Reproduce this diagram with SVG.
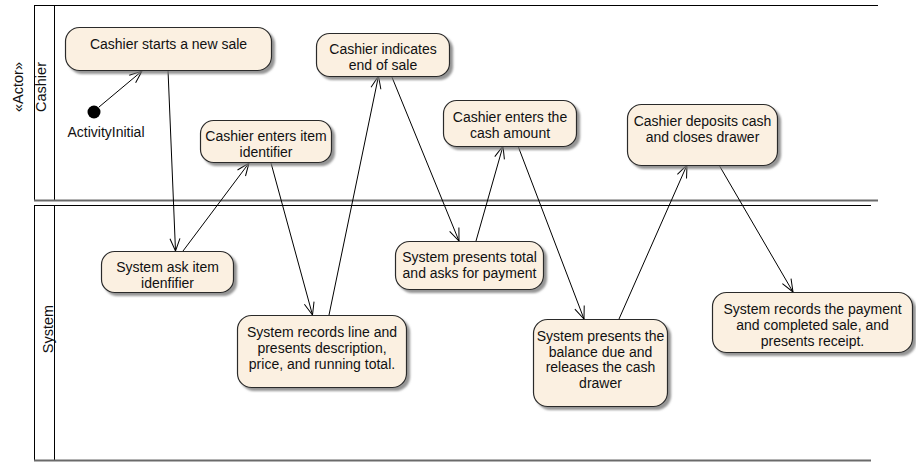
<svg xmlns="http://www.w3.org/2000/svg" width="916" height="462" viewBox="0 0 916 462">
  <style>
    text { font-family: "Liberation Sans", Arial, sans-serif; fill: #111; }
    .lbl { font-size: 14px; text-anchor: middle; }
    .lane-title { font-size: 14.5px; text-anchor: middle; }
    .lane { stroke: #000; stroke-width: 1; fill: none; }
    .lane-edge { stroke: #6a6a6a; stroke-width: 2.2; fill: none; }
    .action { fill: #FBF0E1; stroke: #2b2b2b; stroke-width: 1.2; filter: url(#shadow); }
    .flow { stroke: #000; stroke-width: 1; fill: none; marker-end: url(#open); }
  </style>
  <defs>
    <filter id="shadow" x="-10%" y="-10%" width="125%" height="135%">
      <feDropShadow dx="3" dy="3" stdDeviation="1.2" flood-color="#7a7a7a" flood-opacity="0.8"/>
    </filter>
    <marker id="open" viewBox="-14 -7 15 14" refX="0" refY="0" markerWidth="15" markerHeight="14" markerUnits="userSpaceOnUse" orient="auto">
      <path d="M -12.5 -5 L 0 0 L -12.5 5" fill="none" stroke="#000" stroke-width="1"/>
    </marker>
  </defs>

  <!-- Swimlanes -->
  <g id="lane-cashier">
    <line class="lane" x1="34" y1="5.5" x2="878" y2="5.5"/>
    <line class="lane" x1="34.5" y1="5" x2="34.5" y2="200"/>
    <line class="lane" x1="54.5" y1="5" x2="54.5" y2="200"/>
    <line class="lane-edge" x1="34" y1="200.5" x2="878" y2="200.5"/>
    <text class="lane-title" transform="translate(23,87) rotate(-90)">«Actor»</text>
    <text class="lane-title" transform="translate(45.5,87) rotate(-90)">Cashier</text>
  </g>
  <g id="lane-system">
    <line class="lane" x1="34" y1="205.5" x2="871" y2="205.5"/>
    <line class="lane" x1="34.5" y1="205" x2="34.5" y2="460"/>
    <line class="lane" x1="54.5" y1="205" x2="54.5" y2="460"/>
    <line class="lane-edge" x1="34" y1="460.5" x2="871" y2="460.5"/>
    <text class="lane-title" transform="translate(53,329) rotate(-90)">System</text>
  </g>

  <!-- Control flows -->
  <g id="connectors">
    <line class="flow" x1="99" y1="107" x2="142" y2="71"/>
    <line class="flow" x1="168" y1="70" x2="175.5" y2="251"/>
    <line class="flow" x1="183" y1="251" x2="249" y2="163"/>
    <line class="flow" x1="271" y1="163" x2="312.5" y2="315"/>
    <line class="flow" x1="329" y1="315" x2="378.5" y2="76"/>
    <line class="flow" x1="391.5" y1="76" x2="459" y2="241"/>
    <line class="flow" x1="476" y1="241" x2="503" y2="146"/>
    <line class="flow" x1="518" y1="146" x2="584" y2="319"/>
    <line class="flow" x1="619" y1="319" x2="687" y2="165"/>
    <line class="flow" x1="719" y1="165" x2="793" y2="292"/>
  </g>

  <!-- Initial node -->
  <g id="initial">
    <circle cx="94" cy="112" r="6.5" fill="#000"/>
    <text class="lbl" x="106" y="137">ActivityInitial</text>
  </g>

  <!-- Cashier actions -->
  <g id="start-sale">
    <rect class="action" x="65.5" y="27.5" width="206" height="43" rx="14"/>
    <text class="lbl" x="168.5" y="48.5">Cashier starts a new sale</text>
  </g>
  <g id="enter-item">
    <rect class="action" x="200.5" y="120.5" width="131" height="42" rx="13"/>
    <text class="lbl" x="266" y="141">Cashier enters item</text>
    <text class="lbl" x="266" y="157">identifier</text>
  </g>
  <g id="end-sale">
    <rect class="action" x="316.5" y="33.5" width="133" height="43" rx="13"/>
    <text class="lbl" x="383" y="54">Cashier indicates</text>
    <text class="lbl" x="383" y="70">end of sale</text>
  </g>
  <g id="enter-cash">
    <rect class="action" x="443.5" y="100.5" width="133" height="46" rx="13"/>
    <text class="lbl" x="510" y="122">Cashier enters the</text>
    <text class="lbl" x="510" y="138">cash amount</text>
  </g>
  <g id="deposit-cash">
    <rect class="action" x="627.5" y="104.5" width="150" height="61" rx="14"/>
    <text class="lbl" x="702.5" y="126">Cashier deposits cash</text>
    <text class="lbl" x="702.5" y="142">and closes drawer</text>
  </g>

  <!-- System actions -->
  <g id="ask-item">
    <rect class="action" x="101.5" y="251.5" width="132" height="41" rx="13"/>
    <text class="lbl" x="167.5" y="272">System ask item</text>
    <text class="lbl" x="167.5" y="288">idenfifier</text>
  </g>
  <g id="record-line">
    <rect class="action" x="237.5" y="315.5" width="169" height="72" rx="14"/>
    <text class="lbl" x="322" y="337">System records line and</text>
    <text class="lbl" x="322" y="353">presents description,</text>
    <text class="lbl" x="322" y="369">price, and running total.</text>
  </g>
  <g id="present-total">
    <rect class="action" x="395.5" y="241.5" width="148" height="48" rx="14"/>
    <text class="lbl" x="469.5" y="262">System presents total</text>
    <text class="lbl" x="469.5" y="278">and asks for payment</text>
  </g>
  <g id="balance-due">
    <rect class="action" x="533.5" y="319.5" width="134" height="87" rx="14"/>
    <text class="lbl" x="600.5" y="341">System presents the</text>
    <text class="lbl" x="600.5" y="356.5">balance due and</text>
    <text class="lbl" x="600.5" y="372">releases the cash</text>
    <text class="lbl" x="600.5" y="387.5">drawer</text>
  </g>
  <g id="record-payment">
    <rect class="action" x="712.5" y="292.5" width="200" height="60" rx="14"/>
    <text class="lbl" x="812.5" y="314">System records the payment</text>
    <text class="lbl" x="812.5" y="330">and completed sale, and</text>
    <text class="lbl" x="812.5" y="346">presents receipt.</text>
  </g>
</svg>
